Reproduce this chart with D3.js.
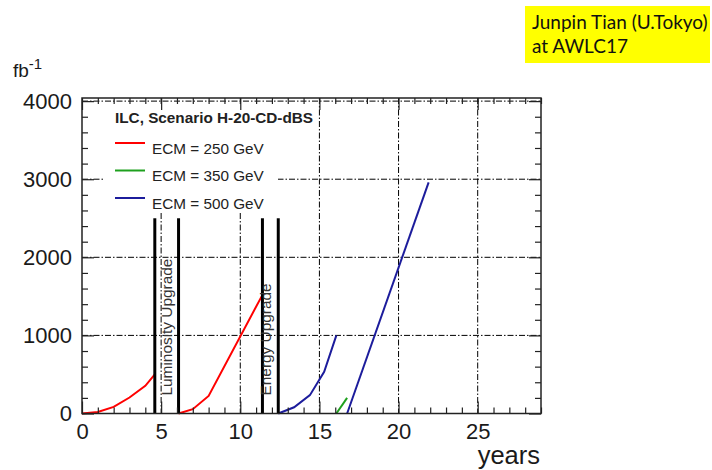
<!DOCTYPE html>
<html>
<head>
<meta charset="utf-8">
<style>
  body { margin: 0; background: #fff; }
  svg { font-family: "Liberation Sans", Arial, sans-serif; }
  .grid line { stroke: #000; stroke-width: 1; stroke-dasharray: 6,2,1.5,2; }
  .axis path { display: none; }
  .axis line { stroke: #222; stroke-width: 1.2; }
  .axis text { font-size: 22px; fill: #1a1a1a; }
</style>
</head>
<body>
<div id="chart"></div>
<script src="https://d3js.org/d3.v7.min.js"></script>
<script>
// integrated luminosity (fb^-1) vs years
const ecm250a = [[0, 0], [1, 20], [2, 85], [3, 205], [4, 355], [4.6, 500]];
const ecm250b = [[6.1, 0], [7, 55], [8, 225], [11.35, 1500]];
const ecm500a = [[12.4, 0], [13.4, 80], [14.4, 235], [15.3, 535], [16.07, 1000]];
const ecm350 = [[16.07, 0], [16.75, 200]];
const ecm500b = [[16.75, 0], [21.9, 2960]];

const xTicks = [0, 5, 10, 15, 20, 25];
const yTicks = [0, 1000, 2000, 3000, 4000];

const upgrades = [
  { label: "Luminosity Upgrade", from: 4.6, to: 6.1 },
  { label: "Energy Upgrade", from: 11.4, to: 12.4 }
];
const upgradeTop = 2500;

const legendItems = [
  { label: "ECM = 250 GeV", color: "#ff0000" },
  { label: "ECM = 350 GeV", color: "#1ea01e" },
  { label: "ECM = 500 GeV", color: "#1c1c9c" }
];

function renderChart() {
  const W = 712, H = 470;
  const margin = { top: 98, left: 82 };
  const width = 459, height = 315.5;

  const svg = d3.select("#chart").append("svg")
    .attr("width", W).attr("height", H);

  const g = svg.append("g")
    .attr("transform", `translate(${margin.left},${margin.top})`);

  const x = d3.scaleLinear().domain([0, 29]).range([0, width]);
  const y = d3.scaleLinear().domain([0, 4040]).range([height, 0]);

  // dash-dot grid
  const grid = g.append("g").attr("class", "grid");
  grid.selectAll(".gx").data(xTicks.filter(d => d > 0)).enter().append("line")
    .attr("x1", d => x(d)).attr("x2", d => x(d))
    .attr("y1", 0).attr("y2", height);
  grid.selectAll(".gy").data(yTicks.filter(d => d > 0)).enter().append("line")
    .attr("x1", 0).attr("x2", width)
    .attr("y1", d => y(d)).attr("y2", d => y(d));

  // legend box hides the grid behind it
  g.append("rect")
    .attr("x", 23).attr("y", 6).attr("width", 173).attr("height", 108)
    .attr("fill", "#fff");

  const line = d3.line().x(d => x(d[0])).y(d => y(d[1]));
  const series = [
    [ecm250a, legendItems[0].color],
    [ecm250b, legendItems[0].color],
    [ecm500a, legendItems[2].color],
    [ecm350, legendItems[1].color],
    [ecm500b, legendItems[2].color]
  ];
  g.selectAll(".curve").data(series).enter().append("path")
    .attr("class", "curve")
    .attr("d", d => line(d[0]))
    .attr("fill", "none")
    .attr("stroke", d => d[1])
    .attr("stroke-width", 2);

  // upgrade periods
  upgrades.forEach(u => {
    [u.from, u.to].forEach(v => {
      g.append("line")
        .attr("x1", x(v)).attr("x2", x(v))
        .attr("y1", y(upgradeTop)).attr("y2", y(0))
        .attr("stroke", "#000").attr("stroke-width", 3);
    });
    const cx = x(u.to) - 7;
    g.append("text")
      .attr("transform", `translate(${cx},${y(0) - 18}) rotate(-90)`)
      .attr("font-size", 15.4)
      .attr("fill", "#333")
      .text(u.label);
  });

  // axes, ticks pointing inward
  const minorX = d3.range(0, 30, 1).filter(d => d % 5 !== 0);
  const minorY = d3.range(0, 4040, 200).filter(d => d % 1000 !== 0);

  g.append("g").attr("class", "axis")
    .attr("transform", `translate(0,${height})`)
    .call(d3.axisBottom(x).tickValues(xTicks).tickSize(-12).tickSizeOuter(0).tickPadding(10).tickFormat(d3.format("d")));
  g.append("g").attr("class", "axis")
    .attr("transform", `translate(0,${height})`)
    .call(d3.axisBottom(x).tickValues(minorX).tickSize(-6).tickSizeOuter(0).tickFormat(""));
  g.append("g").attr("class", "axis")
    .call(d3.axisTop(x).tickValues(xTicks).tickSize(-12).tickSizeOuter(0).tickFormat(""));
  g.append("g").attr("class", "axis")
    .call(d3.axisTop(x).tickValues(minorX).tickSize(-6).tickSizeOuter(0).tickFormat(""));

  g.append("g").attr("class", "axis")
    .call(d3.axisLeft(y).tickValues(yTicks).tickSize(-12).tickSizeOuter(0).tickPadding(10).tickFormat(d3.format("d")));
  g.append("g").attr("class", "axis")
    .call(d3.axisLeft(y).tickValues(minorY).tickSize(-6).tickSizeOuter(0).tickFormat(""));
  g.append("g").attr("class", "axis")
    .attr("transform", `translate(${width},0)`)
    .call(d3.axisRight(y).tickValues(yTicks).tickSize(-12).tickSizeOuter(0).tickFormat(""));
  g.append("g").attr("class", "axis")
    .attr("transform", `translate(${width},0)`)
    .call(d3.axisRight(y).tickValues(minorY).tickSize(-6).tickSizeOuter(0).tickFormat(""));

  g.append("rect")
    .attr("width", width).attr("height", height)
    .attr("fill", "none").attr("stroke", "#222").attr("stroke-width", 1.5);

  // legend
  g.append("text")
    .attr("x", 33).attr("y", 24.7)
    .attr("font-size", 15.3).attr("font-weight", "bold").attr("fill", "#222")
    .text("ILC, Scenario H-20-CD-dBS");
  const leg = g.selectAll(".leg").data(legendItems).enter().append("g")
    .attr("transform", (d, i) => `translate(33,${45 + i * 27.5})`);
  leg.append("line")
    .attr("x1", 0).attr("x2", 30)
    .attr("stroke", d => d.color).attr("stroke-width", 2);
  leg.append("text")
    .attr("x", 37).attr("y", 10.5)
    .attr("font-size", 15.3).attr("fill", "#222")
    .text(d => d.label);

  // axis titles
  svg.append("text")
    .attr("x", 540).attr("y", 464)
    .attr("text-anchor", "end")
    .attr("font-size", 25.5).attr("fill", "#1a1a1a")
    .text("years");
  const fb = svg.append("text")
    .attr("x", 13).attr("y", 77)
    .attr("font-size", 19).attr("fill", "#1a1a1a")
    .text("fb");
  fb.append("tspan").attr("dy", -8).attr("font-size", 15).text("-1");

  // note box
  svg.append("rect")
    .attr("x", 525).attr("y", 6).attr("width", 185).attr("height", 57)
    .attr("fill", "#ffff00");
  svg.append("text")
    .attr("x", 532).attr("y", 29)
    .attr("font-family", "Lato, 'Open Sans', sans-serif")
    .attr("font-size", 19).attr("fill", "#111")
    .text("Junpin Tian (U.Tokyo)");
  svg.append("text")
    .attr("x", 532).attr("y", 53)
    .attr("font-family", "Lato, 'Open Sans', sans-serif")
    .attr("font-size", 19).attr("fill", "#111")
    .text("at AWLC17");
}

renderChart();
</script>
</body>
</html>
